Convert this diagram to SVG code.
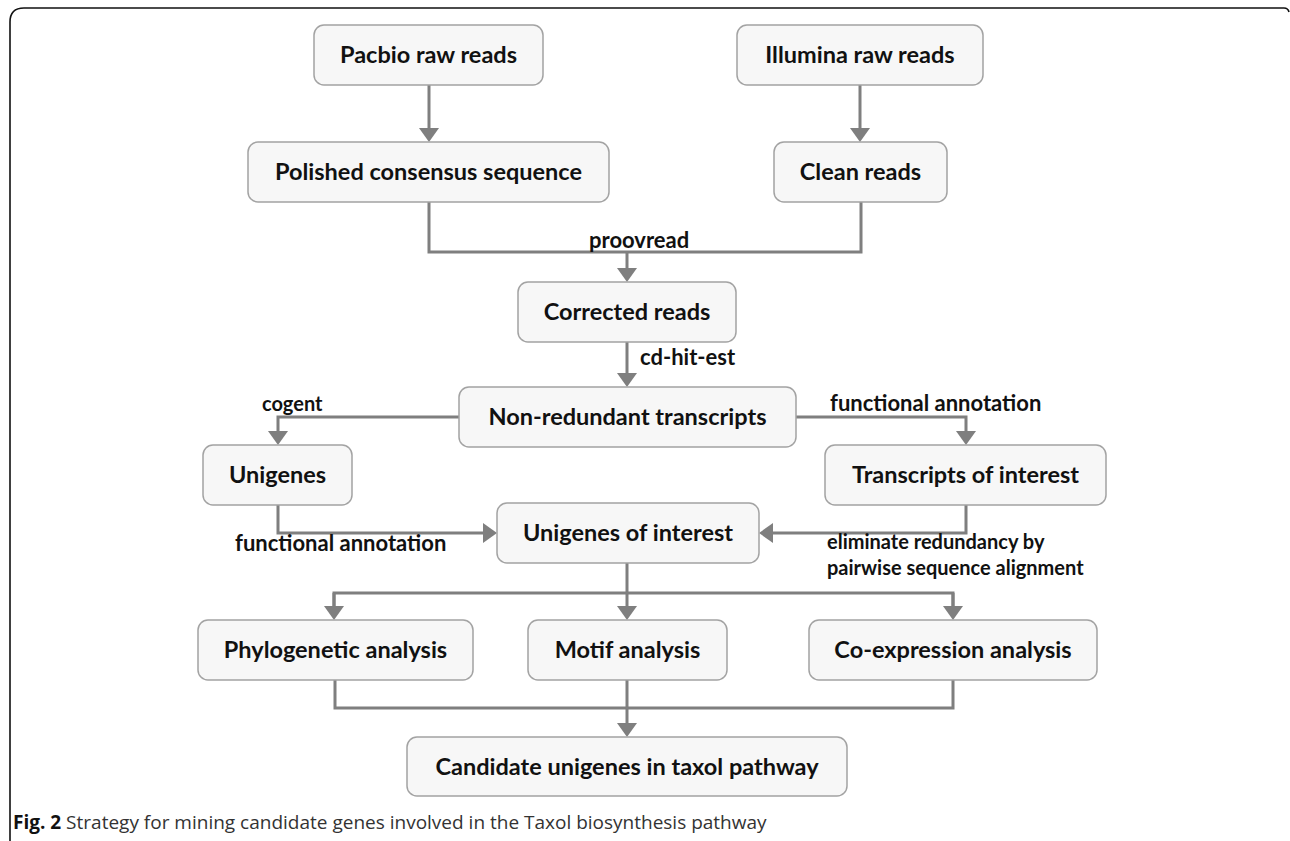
<svg xmlns="http://www.w3.org/2000/svg" width="1290" height="841" viewBox="0 0 1290 841">
<defs>
<style>
.box{fill:#f7f7f7;stroke:#a3a3a3;stroke-width:1.5}
.nt{font-family:Lato,"Open Sans",sans-serif;font-weight:bold;font-size:23.5px;fill:#111;text-anchor:middle}
.lb{font-family:Lato,"Open Sans",sans-serif;font-weight:bold;font-size:22px;fill:#111}
.sm{font-size:20px}
.ln{fill:none;stroke:#7f7f7f;stroke-width:3}
.cap{font-family:"Open Sans",sans-serif;font-size:19px;fill:#333}
</style>
<marker id="ah" markerUnits="userSpaceOnUse" markerWidth="14" markerHeight="20" viewBox="0 0 14 20" refX="0" refY="10" orient="auto">
<path d="M0,0 L14,10 L0,20 z" fill="#7f7f7f"/>
</marker>
</defs>
<rect width="1290" height="841" fill="#fff"/>
<path d="M10,841 V22 Q10,8 24,8 H1284 Q1288,8 1289,12" fill="none" stroke="#111" stroke-width="1.6"/>

<g id="connectors">
<path class="ln" d="M429,85 V128" marker-end="url(#ah)"/>
<path class="ln" d="M860,85 V128" marker-end="url(#ah)"/>
<path class="ln" d="M429,202 V252 H861 V202"/>
<path class="ln" d="M627,252 V268" marker-end="url(#ah)"/>
<path class="ln" d="M627,342 V373" marker-end="url(#ah)"/>
<path class="ln" d="M459,417 H278 V431" marker-end="url(#ah)"/>
<path class="ln" d="M796,417 H966 V431" marker-end="url(#ah)"/>
<path class="ln" d="M278,505 V533 H483" marker-end="url(#ah)"/>
<path class="ln" d="M966,505 V533 H773" marker-end="url(#ah)"/>
<path class="ln" d="M627,563 V606" marker-end="url(#ah)"/>
<path class="ln" d="M334,606 V593 H953 V606" />
<path class="ln" d="M334,593 V606" marker-end="url(#ah)"/>
<path class="ln" d="M953,593 V606" marker-end="url(#ah)"/>
<path class="ln" d="M335,680 V708 H953 V680"/>
<path class="ln" d="M627,680 V723" marker-end="url(#ah)"/>
<text class="lb" x="589" y="248">proovread</text>
<text class="lb" x="640" y="365" font-size="21px">cd-hit-est</text>
<text class="lb sm" x="262" y="411">cogent</text>
<text class="lb" x="830" y="411">functional annotation</text>
<text class="lb" x="235" y="551">functional annotation</text>
<text class="lb sm" x="827" y="549">eliminate redundancy by</text>
<text class="lb sm" x="827" y="575">pairwise sequence alignment</text>
</g>

<g id="pacbio"><rect class="box" x="314" y="25" width="229" height="60" rx="10"/><text class="nt" x="428.5" y="63">Pacbio raw reads</text></g>
<g id="illumina"><rect class="box" x="737" y="25" width="246" height="60" rx="10"/><text class="nt" x="860" y="63">Illumina raw reads</text></g>
<g id="polished"><rect class="box" x="248" y="142" width="361" height="60" rx="10"/><text class="nt" x="428.5" y="180">Polished consensus sequence</text></g>
<g id="clean"><rect class="box" x="774" y="142" width="173" height="60" rx="10"/><text class="nt" x="860.5" y="180">Clean reads</text></g>
<g id="corrected"><rect class="box" x="518" y="282" width="218" height="60" rx="10"/><text class="nt" x="627" y="320">Corrected reads</text></g>
<g id="nonredundant"><rect class="box" x="459" y="387" width="337" height="60" rx="10"/><text class="nt" x="627.5" y="425">Non-redundant transcripts</text></g>
<g id="unigenes"><rect class="box" x="203" y="445" width="149" height="60" rx="10"/><text class="nt" x="277.5" y="483">Unigenes</text></g>
<g id="transcripts"><rect class="box" x="825" y="445" width="281" height="60" rx="10"/><text class="nt" x="965.5" y="483">Transcripts of interest</text></g>
<g id="unigenesoi"><rect class="box" x="497" y="503" width="262" height="60" rx="10"/><text class="nt" x="628" y="541">Unigenes of interest</text></g>
<g id="phylo"><rect class="box" x="198" y="620" width="275" height="60" rx="10"/><text class="nt" x="335.5" y="658">Phylogenetic analysis</text></g>
<g id="motif"><rect class="box" x="528" y="620" width="199" height="60" rx="10"/><text class="nt" x="627.5" y="658">Motif analysis</text></g>
<g id="coexp"><rect class="box" x="809" y="620" width="288" height="60" rx="10"/><text class="nt" x="953" y="658">Co-expression analysis</text></g>
<g id="candidate"><rect class="box" x="407" y="737" width="440" height="59" rx="10"/><text class="nt" x="627" y="775">Candidate unigenes in taxol pathway</text></g>

<text class="cap" x="13" y="829"><tspan font-weight="bold" fill="#111">Fig. 2</tspan> Strategy for mining candidate genes involved in the Taxol biosynthesis pathway</text>
</svg>
